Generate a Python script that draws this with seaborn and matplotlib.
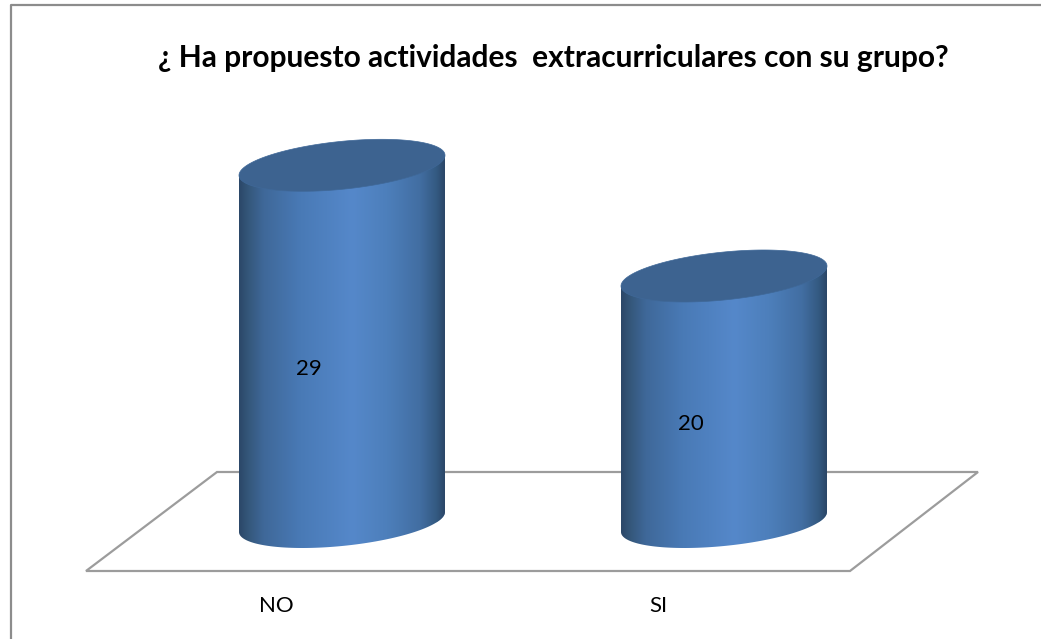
import matplotlib
matplotlib.use('Agg')
import matplotlib.pyplot as plt
from matplotlib.colors import LinearSegmentedColormap
from matplotlib.lines import Line2D
from matplotlib.patches import Polygon
import seaborn as sns
import numpy as np

categories = ['NO', 'SI']
values = [29, 20]
title = '¿ Ha propuesto actividades  extracurriculares con su grupo?'

W, H = 1041, 639

sns.set_theme(style='white')
plt.rcParams['font.family'] = ['Lato', 'DejaVu Sans']

fig = plt.figure(figsize=(W / 100, H / 100), dpi=100)
ax = fig.add_axes([0, 0, 1, 1])

sns.barplot(x=categories, y=values, color='#4f81bd', width=206 / 382, ax=ax)
bars = list(ax.patches)

# 382 px between bars, 12.3 px per unit, baseline at y=522 px
xlim = (-342 / 382, (W - 342) / 382)
ylim = (-(H - 522) / 12.3, 522 / 12.3)
ax.axis('off')


def px(x, y):
    return x / W, 1 - y / H


# chart border, open on the right and bottom
fig.add_artist(Line2D([11 / W, 11 / W, 1], [0, 1 - 5 / H, 1 - 5 / H],
                      transform=fig.transFigure, color='#8c8c8c', lw=1.6))

# floor of the 3d chart
floor = [px(86, 571), px(217, 472), px(978, 472), px(850, 571)]
ax.add_patch(Polygon(floor, closed=True, fill=False, edgecolor='#9c9c9c', lw=1.6,
                     transform=ax.transAxes, zorder=1))

side_cmap = LinearSegmentedColormap.from_list('side', [
    (0.0, '#2b4768'), (0.04, '#345679'), (0.12, '#3f6899'), (0.3, '#497ab6'),
    (0.55, '#5588ca'), (0.72, '#4d7fbb'), (0.88, '#426ea2'), (0.96, '#345a82'),
    (1.0, '#2b4768')])
gradient = np.linspace(0, 1, 256).reshape(1, -1)

tilt = 10 / 12.3
depth = 24 / 12.3
for i, bar in enumerate(bars):
    left = bar.get_x()
    width = bar.get_width()
    top = bar.get_height()
    cx = left + width / 2
    t = np.linspace(0, 2 * np.pi, 200)
    ex = cx + width / 2 * np.cos(t)
    ey = tilt * np.cos(t) + depth * np.sin(t)

    # cylinder side: down the left edge, round the bottom, up the right edge
    lower = t >= np.pi
    body = np.vstack([[left, top - tilt],
                      np.column_stack([ex[lower], ey[lower]]),
                      [left + width, top + tilt]])
    shape = Polygon(body, closed=True, facecolor='none', edgecolor='none')
    ax.add_patch(shape)
    bar.set_clip_path(shape)
    bar.set_zorder(2)

    img = ax.imshow(gradient, cmap=side_cmap, aspect='auto', zorder=3,
                    extent=[left, left + width, -depth - tilt, top + tilt])
    img.set_clip_path(shape)

    ax.add_patch(Polygon(np.column_stack([ex, top + ey]), closed=True, facecolor='#3d6390',
                         edgecolor='#3f6898', lw=0.5, zorder=4))

    ax.annotate(str(values[i]), (cx, top / 2), xytext=(-33, -25), textcoords='offset pixels',
                ha='center', va='center', fontsize=16, color='black', zorder=5)
    ax.annotate(categories[i], (cx, 0), xytext=(-66, -84), textcoords='offset pixels',
                ha='center', va='center', fontsize=16, color='black', zorder=5)

ax.set_xlim(xlim)
ax.set_ylim(ylim)

fig.text(553 / W, 1 - 58 / H, title, ha='center', va='center', fontsize=21.5, fontweight='bold',
         color='black')

fig.savefig('out.png', dpi=100, facecolor='white')
